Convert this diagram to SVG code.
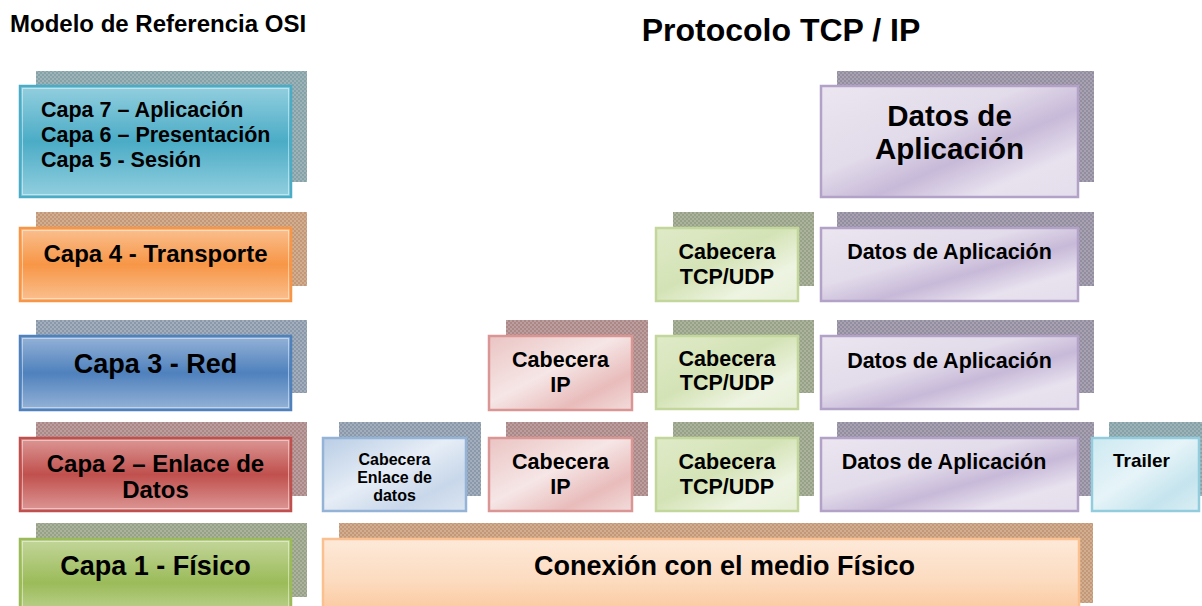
<svg xmlns="http://www.w3.org/2000/svg" width="1202" height="606" viewBox="0 0 1202 606">
<style>
text{font-family:"Liberation Sans",Arial,sans-serif;font-weight:bold;fill:#000}
.c{text-anchor:middle}
.inner{fill:none;stroke:#fff;stroke-opacity:0.45;stroke-width:1}
</style>
<defs>
<pattern id="pTeal" width="4" height="4" patternUnits="userSpaceOnUse"><rect width="4" height="4" fill="#9db3b8"/><rect width="2" height="2" fill="#86a2a9"/><rect x="2" y="2" width="2" height="2" fill="#86a2a9"/></pattern>
<pattern id="pOrange" width="4" height="4" patternUnits="userSpaceOnUse"><rect width="4" height="4" fill="#d2ae90"/><rect width="2" height="2" fill="#c39878"/><rect x="2" y="2" width="2" height="2" fill="#c39878"/></pattern>
<pattern id="pBlue" width="4" height="4" patternUnits="userSpaceOnUse"><rect width="4" height="4" fill="#a2aebc"/><rect width="2" height="2" fill="#8a98aa"/><rect x="2" y="2" width="2" height="2" fill="#8a98aa"/></pattern>
<pattern id="pRed" width="4" height="4" patternUnits="userSpaceOnUse"><rect width="4" height="4" fill="#bc9e9e"/><rect width="2" height="2" fill="#aa8888"/><rect x="2" y="2" width="2" height="2" fill="#aa8888"/></pattern>
<pattern id="pGreen" width="4" height="4" patternUnits="userSpaceOnUse"><rect width="4" height="4" fill="#abb39c"/><rect width="2" height="2" fill="#97a187"/><rect x="2" y="2" width="2" height="2" fill="#97a187"/></pattern>
<pattern id="pPurple" width="4" height="4" patternUnits="userSpaceOnUse"><rect width="4" height="4" fill="#a7a1b1"/><rect width="2" height="2" fill="#938da0"/><rect x="2" y="2" width="2" height="2" fill="#938da0"/></pattern>

<linearGradient id="gTeal" x1="0" y1="0" x2="0" y2="1"><stop offset="0" stop-color="#93cfdf"/><stop offset="0.5" stop-color="#4bacc6"/><stop offset="1" stop-color="#93cfdf"/></linearGradient>
<linearGradient id="gOrange" x1="0" y1="0" x2="0" y2="1"><stop offset="0" stop-color="#fac090"/><stop offset="0.5" stop-color="#f79646"/><stop offset="1" stop-color="#fac090"/></linearGradient>
<linearGradient id="gBlue" x1="0" y1="0" x2="0" y2="1"><stop offset="0" stop-color="#95b3d7"/><stop offset="0.5" stop-color="#4f81bd"/><stop offset="1" stop-color="#95b3d7"/></linearGradient>
<linearGradient id="gRed" x1="0" y1="0" x2="0" y2="1"><stop offset="0" stop-color="#dc9896"/><stop offset="0.5" stop-color="#c0504d"/><stop offset="1" stop-color="#dc9896"/></linearGradient>
<linearGradient id="gGreen" x1="0" y1="0" x2="0" y2="1"><stop offset="0" stop-color="#c3d69b"/><stop offset="0.55" stop-color="#9bbb59"/><stop offset="1" stop-color="#c3d69b"/></linearGradient>

<linearGradient id="lBlue" x1="0" y1="0" x2="1" y2="1"><stop offset="0" stop-color="#b9cde5"/><stop offset="0.45" stop-color="#e6edf6"/><stop offset="0.75" stop-color="#c8d7ea"/><stop offset="1" stop-color="#dbe5f1"/></linearGradient>
<linearGradient id="lRed" x1="0" y1="0" x2="1" y2="1"><stop offset="0" stop-color="#eac4c3"/><stop offset="0.45" stop-color="#f6e6e6"/><stop offset="0.75" stop-color="#e8bcbb"/><stop offset="1" stop-color="#f2dcdb"/></linearGradient>
<linearGradient id="lGreen" x1="0" y1="0" x2="1" y2="1"><stop offset="0" stop-color="#dfeac8"/><stop offset="0.45" stop-color="#d4e3b6"/><stop offset="0.75" stop-color="#eef4e2"/><stop offset="1" stop-color="#e6eed6"/></linearGradient>
<linearGradient id="lPurple" x1="0" y1="0" x2="1" y2="1"><stop offset="0" stop-color="#ebe6f0"/><stop offset="0.4" stop-color="#e2dbea"/><stop offset="0.6" stop-color="#c7b9d8"/><stop offset="0.8" stop-color="#e8e2ef"/><stop offset="1" stop-color="#e4ddeb"/></linearGradient>
<linearGradient id="lTeal" x1="0" y1="0" x2="1" y2="1"><stop offset="0" stop-color="#cde9f1"/><stop offset="0.45" stop-color="#e6f4f8"/><stop offset="0.75" stop-color="#c5e4ee"/><stop offset="1" stop-color="#dbeef4"/></linearGradient>
<linearGradient id="lOrange" x1="0" y1="0" x2="0" y2="1"><stop offset="0" stop-color="#fde9d9"/><stop offset="0.5" stop-color="#fcdcc1"/><stop offset="1" stop-color="#fbc597"/></linearGradient>
</defs>

<rect width="1202" height="606" fill="#ffffff"/>

<g id="title-osi"><text x="10" y="32" font-size="24">Modelo de Referencia OSI</text></g>
<g id="title-tcpip"><text class="c" x="781" y="41" font-size="32">Protocolo TCP / IP</text></g>

<!-- OSI layers -->
<g id="capa7">
<rect x="36" y="71" width="271" height="111" fill="url(#pTeal)"/>
<rect x="20" y="86" width="271" height="111" fill="url(#gTeal)" stroke="#4bacc6" stroke-width="2.5"/>
<rect x="22.5" y="88.5" width="266" height="106" class="inner"/>
<text x="41" y="117" font-size="21.5">Capa 7 – Aplicación</text>
<text x="41" y="142" font-size="21.5">Capa 6 – Presentación</text>
<text x="41" y="167" font-size="21.5">Capa 5 - Sesión</text>
</g>
<g id="capa4">
<rect x="36" y="212" width="271" height="74" fill="url(#pOrange)"/>
<rect x="20" y="228" width="271" height="73" fill="url(#gOrange)" stroke="#f79646" stroke-width="2.5"/>
<rect x="22.5" y="230.5" width="266" height="68" class="inner"/>
<text class="c" x="155.5" y="262" font-size="24">Capa 4 - Transporte</text>
</g>
<g id="capa3">
<rect x="36" y="320" width="271" height="73" fill="url(#pBlue)"/>
<rect x="20" y="336" width="271" height="74" fill="url(#gBlue)" stroke="#4f81bd" stroke-width="2.5"/>
<rect x="22.5" y="338.5" width="266" height="69" class="inner"/>
<text class="c" x="155.5" y="373" font-size="27">Capa 3 - Red</text>
</g>
<g id="capa2">
<rect x="36" y="422" width="271" height="74" fill="url(#pRed)"/>
<rect x="20" y="438" width="271" height="73" fill="url(#gRed)" stroke="#c0504d" stroke-width="2.5"/>
<rect x="22.5" y="440.5" width="266" height="68" class="inner"/>
<text class="c" x="155.5" y="472" font-size="24">Capa 2 – Enlace de</text>
<text class="c" x="155.5" y="498" font-size="24">Datos</text>
</g>
<g id="capa1">
<rect x="36" y="523" width="271" height="74" fill="url(#pGreen)"/>
<rect x="20" y="539" width="271" height="80" fill="url(#gGreen)" stroke="#9bbb59" stroke-width="2.5"/>
<rect x="22.5" y="541.5" width="266" height="75" class="inner"/>
<text class="c" x="155.5" y="575" font-size="27">Capa 1 - Físico</text>
</g>

<!-- TCP/IP: application -->
<g id="datos-app-top">
<rect x="837" y="71" width="257" height="111" fill="url(#pPurple)"/>
<rect x="821" y="86" width="257" height="111" fill="url(#lPurple)" stroke="#b3a2c7" stroke-width="2.5"/>
<text class="c" x="949.5" y="126" font-size="29.5">Datos de</text>
<text class="c" x="949.5" y="159" font-size="29.5">Aplicación</text>
</g>

<!-- transport -->
<g id="tcp-l4">
<rect x="673" y="212" width="141" height="74" fill="url(#pGreen)"/>
<rect x="656" y="228" width="142" height="73" fill="url(#lGreen)" stroke="#c3d69b" stroke-width="2.5"/>
<text class="c" x="727" y="259" font-size="21.5">Cabecera</text>
<text class="c" x="727" y="284" font-size="21.5">TCP/UDP</text>
</g>
<g id="datos-l4">
<rect x="837" y="212" width="257" height="74" fill="url(#pPurple)"/>
<rect x="821" y="228" width="257" height="73" fill="url(#lPurple)" stroke="#b3a2c7" stroke-width="2.5"/>
<text class="c" x="949.5" y="259" font-size="21.5">Datos de Aplicación</text>
</g>

<!-- network -->
<g id="ip-l3">
<rect x="506" y="320" width="142" height="73" fill="url(#pRed)"/>
<rect x="489" y="336" width="143" height="74" fill="url(#lRed)" stroke="#d99694" stroke-width="2.5"/>
<text class="c" x="560.5" y="367" font-size="21.5">Cabecera</text>
<text class="c" x="560.5" y="392" font-size="21.5">IP</text>
</g>
<g id="tcp-l3">
<rect x="673" y="320" width="141" height="73" fill="url(#pGreen)"/>
<rect x="656" y="336" width="142" height="73" fill="url(#lGreen)" stroke="#c3d69b" stroke-width="2.5"/>
<text class="c" x="727" y="366" font-size="21.5">Cabecera</text>
<text class="c" x="727" y="390" font-size="21.5">TCP/UDP</text>
</g>
<g id="datos-l3">
<rect x="837" y="320" width="257" height="73" fill="url(#pPurple)"/>
<rect x="821" y="336" width="257" height="73" fill="url(#lPurple)" stroke="#b3a2c7" stroke-width="2.5"/>
<text class="c" x="949.5" y="368" font-size="21.5">Datos de Aplicación</text>
</g>

<!-- data link -->
<g id="enlace-l2">
<rect x="339" y="422" width="142" height="74" fill="url(#pBlue)"/>
<rect x="323" y="438" width="143" height="73" fill="url(#lBlue)" stroke="#95b3d7" stroke-width="2.5"/>
<text class="c" x="394.5" y="465" font-size="16">Cabecera</text>
<text class="c" x="394.5" y="483" font-size="16">Enlace de</text>
<text class="c" x="394.5" y="501" font-size="16">datos</text>
</g>
<g id="ip-l2">
<rect x="506" y="422" width="142" height="74" fill="url(#pRed)"/>
<rect x="489" y="438" width="143" height="73" fill="url(#lRed)" stroke="#d99694" stroke-width="2.5"/>
<text class="c" x="560.5" y="469" font-size="21.5">Cabecera</text>
<text class="c" x="560.5" y="494" font-size="21.5">IP</text>
</g>
<g id="tcp-l2">
<rect x="673" y="422" width="141" height="74" fill="url(#pGreen)"/>
<rect x="656" y="438" width="142" height="73" fill="url(#lGreen)" stroke="#c3d69b" stroke-width="2.5"/>
<text class="c" x="727" y="469" font-size="21.5">Cabecera</text>
<text class="c" x="727" y="494" font-size="21.5">TCP/UDP</text>
</g>
<g id="datos-l2">
<rect x="837" y="422" width="257" height="74" fill="url(#pPurple)"/>
<rect x="821" y="438" width="257" height="73" fill="url(#lPurple)" stroke="#b3a2c7" stroke-width="2.5"/>
<text class="c" x="944" y="469" font-size="21.5">Datos de Aplicación</text>
</g>
<g id="trailer-l2">
<rect x="1109" y="422" width="100" height="74" fill="url(#pTeal)"/>
<rect x="1092" y="438" width="107" height="73" fill="url(#lTeal)" stroke="#93cddd" stroke-width="2.5"/>
<text class="c" x="1141.5" y="467" font-size="19">Trailer</text>
</g>

<!-- physical -->
<g id="fisico-l1">
<rect x="339" y="523" width="754" height="80" fill="url(#pOrange)"/>
<rect x="323" y="539" width="756" height="80" fill="url(#lOrange)" stroke="#fac090" stroke-width="2.5"/>
<text class="c" x="724.5" y="575" font-size="27">Conexión con el medio Físico</text>
</g>
</svg>
